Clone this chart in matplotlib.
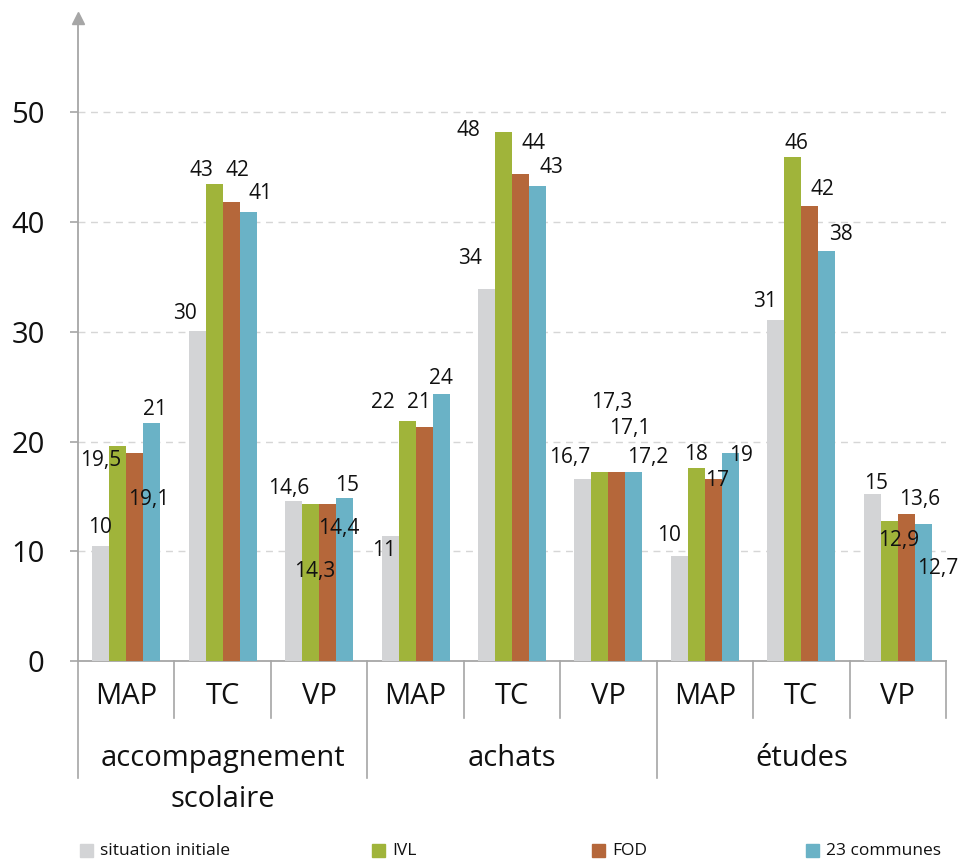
import matplotlib
matplotlib.use('Agg')
import matplotlib.pyplot as plt
import matplotlib.transforms as mtransforms
from matplotlib.lines import Line2D
from matplotlib.patches import Rectangle

plt.rcParams['font.family'] = ['Open Sans', 'DejaVu Sans']

# data
groups = ['accompagnement\nscolaire', 'achats', 'études']
modes = ['MAP', 'TC', 'VP']
series = ['situation initiale', 'IVL', 'FOD', '23 communes']
colors = ['#d3d4d6', '#a0b43a', '#b5673a', '#6ab2c6']

situation_initiale = [10.5, 30.1, 14.6, 11.4, 33.9, 16.6, 9.6, 31.1, 15.2]
ivl = [19.6, 43.5, 14.3, 21.9, 48.2, 17.2, 17.6, 45.9, 12.8]
fod = [19.0, 41.8, 14.3, 21.3, 44.4, 17.2, 16.6, 41.5, 13.4]
communes_23 = [21.7, 40.9, 14.9, 24.3, 43.3, 17.2, 19.0, 37.4, 12.5]

labels_si = ['10', '30', '14,6', '11', '34', '16,7', '10', '31', '15']
labels_ivl = ['19,5', '43', '14,3', '22', '48', '17,3', '18', '46', '12,9']
labels_fod = ['19,1', '42', '14,4', '21', '44', '17,1', '17', '42', '13,6']
labels_23 = ['21', '41', '15', '24', '43', '17,2', '19', '38', '12,7']

values = [situation_initiale, ivl, fod, communes_23]
labels = [labels_si, labels_ivl, labels_fod, labels_23]

# label offsets in pixels (dx, dy) relative to top of each bar
offsets = [
    [(-1, 18), (-12, 17), (-5, 12), (-6, -15), (-17, 31), (-13, 21), (-10, 20), (-11, 18), (4, 11)],
    [(-17, -15), (-13, 13), (4, -67), (-24, 18), (-35, 2), (12, 70), (0, 13), (4, 14), (9, -20)],
    [(14, -47), (6, 32), (11, -24), (-5, 25), (13, 30), (13, 44), (4, -2), (13, 16), (13, 14)],
    [(3, 13), (12, 19), (2, 12), (0, 16), (14, 18), (14, 15), (11, -3), (14, 16), (14, -45)],
]

fig = plt.figure(figsize=(9.61, 8.60), dpi=100)
ax = fig.add_axes([78 / 961, 1 - 661 / 860, (946 - 78) / 961, (661 - 18) / 860])

n = len(situation_initiale)
width = 0.176
for j, vals in enumerate(values):
    xs = [i + 0.5 + (j - 1.5) * width for i in range(n)]
    ax.bar(xs, vals, width=width, color=colors[j], zorder=3)
    for i in range(n):
        dx, dy = offsets[j][i]
        ax.annotate(labels[j][i], (xs[i], vals[i]), xytext=(dx, dy),
                    textcoords='offset pixels', ha='center', va='center',
                    fontsize=15, color='#111111', zorder=5)

ax.set_xlim(0, n)
ax.set_ylim(0, 58.6)
ax.set_yticks([0, 10, 20, 30, 40, 50])
ax.set_xticks([])
ax.tick_params(axis='y', length=6, width=1.2, color='#a6a6a6', labelsize=21, pad=18,
               labelcolor='#111111')
for y in [10, 20, 30, 40, 50]:
    ax.axhline(y, color='#d6d6d6', linestyle=(0, (5, 4)), linewidth=1, zorder=1)

for s in ['top', 'right']:
    ax.spines[s].set_visible(False)
ax.spines['left'].set_color('#a6a6a6')
ax.spines['bottom'].set_color('#a6a6a6')
ax.spines['left'].set_linewidth(1.3)
ax.spines['bottom'].set_linewidth(1.3)
ax.plot([0], [1], marker='^', color='#a6a6a6', markersize=9, transform=ax.transAxes,
        clip_on=False, zorder=6)

# category axis below the chart
trans = mtransforms.blended_transform_factory(ax.transData, fig.transFigure)
for i in range(n):
    ax.text(i + 0.5, 1 - 697 / 860, modes[i % 3], transform=trans, ha='center', va='center',
            fontsize=21, color='#111111')
for x in range(n + 1):
    y_end = 1 - 778 / 860 if x in (0, 3, 6) else 1 - 718 / 860
    fig.add_artist(Line2D([x, x], [1 - 661 / 860, y_end], transform=trans,
                          color='#a6a6a6', linewidth=1.2))
for g, name in enumerate(groups):
    ax.text(g * 3 + 1.5, 1 - 744 / 860, name, transform=trans, ha='center', va='top',
            fontsize=21, color='#111111', linespacing=1.55)

# legend
leg_x = [80, 372, 592, 806]
for j, name in enumerate(series):
    fig.add_artist(Rectangle((leg_x[j] / 961, 1 - 857 / 860), 13 / 961, 13 / 860,
                             transform=fig.transFigure, color=colors[j]))
    fig.text((leg_x[j] + 20) / 961, 1 - 851 / 860, name, ha='left', va='center',
             fontsize=12.5, color='#111111')

fig.savefig('out.png', dpi=100)
